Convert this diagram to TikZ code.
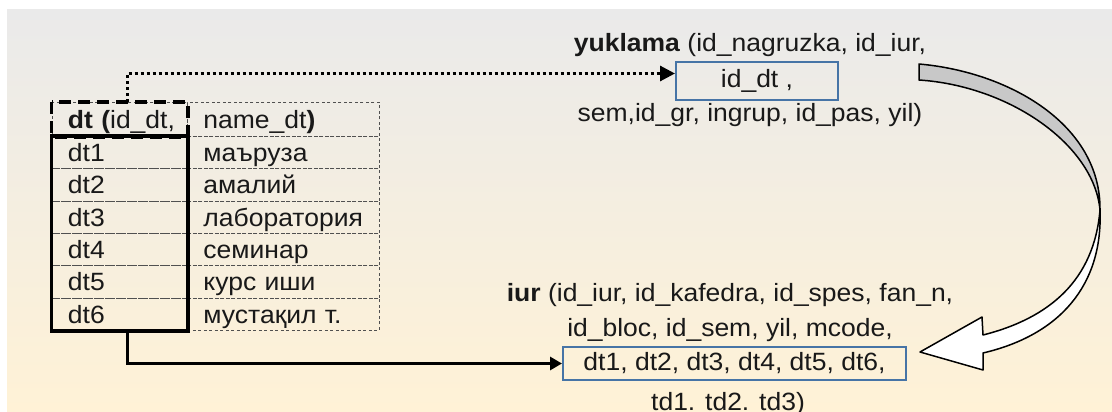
\documentclass[tikz,border=0pt]{standalone}
\usepackage{fontspec}
\setmainfont{Liberation Sans}[FakeStretch=1.06]
\usetikzlibrary{arrows.meta}
\definecolor{bgtop}{RGB}{234,234,234}
\definecolor{bgbot}{RGB}{255,242,214}
\definecolor{keyblue}{RGB}{70,116,166}
\definecolor{gridgray}{RGB}{80,80,80}
\definecolor{bandgray}{RGB}{200,200,200}

\begin{document}
\begin{tikzpicture}[x=1pt,y=-1pt,
  every node/.style={font=\fontsize{25}{30}\selectfont, inner sep=0pt, text=black!90},
  thingrid/.style={draw=gridgray, line width=0.9pt, dash pattern=on 3pt off 2.5pt},
  cell/.style={thingrid, anchor=north west, minimum height=#1, text height=18pt, text depth=0pt, inner xsep=16pt, align=left},
  cellL/.style={cell=#1, text width=103.5pt},
  cellR/.style={cell=#1, text width=160pt},
  keybox/.style={draw=keyblue, line width=2pt},
  dotline/.style={line width=3pt, dash pattern=on 3pt off 3pt, -{Triangle[length=15pt,width=15pt]}},
  solidline/.style={line width=3pt, -{Triangle[length=12pt,width=13pt]}},
  band/.style={draw=black, line width=1.5pt, line join=round}]

\useasboundingbox (0,0) rectangle (1112,412);
\clip (0,0) rectangle (1112,412);

% background
\fill[white] (0,0) rectangle (1112,412);
\shade[top color=bgtop, middle color=white, bottom color=bgbot] (7,10) rectangle (1112,412);

% table dt
\node[cellL=34pt] (hl) at (51.5,102) {\mbox{\textbf{dt (}id\_dt,}};
\node[cellR=34pt] (hr) at (187,102) {\mbox{name\_dt\textbf{)}}};
\foreach \i/\nm in {1/маъруза,2/амалий,3/лаборатория,4/семинар,5/курс иши,6/мустақил т.} {
  \node[cellL=32.33pt] (l\i) at (51.5,{136+(\i-1)*32.33}) {dt\i};
  \node[cellR=32.33pt] (r\i) at (187,{136+(\i-1)*32.33}) {\mbox{\nm}};
}
\draw[line width=3.5pt] (l1.north west) rectangle (l6.south east);
\draw[line width=3.5pt, dash pattern=on 12pt off 7pt] (hl.north west) rectangle (hl.south east);

% yuklama
\node (ytitle) at (750,45) {\textbf{yuklama} (id\_nagruzka, id\_iur,};
\node[keybox, minimum width=162pt, minimum height=38pt] (ybox) at (757,81) {id\_dt ,\hspace{16pt}};
\node (ybot) at (750,115) {sem,id\_gr, ingrup, id\_pas, yil)};

% iur
\node (i1) at (730,295) {\textbf{iur} (id\_iur, id\_kafedra, id\_spes, fan\_n,};
\node (i2) at (730,330) {id\_bloc, id\_sem, yil, mcode,};
\node[keybox, minimum width=343pt, minimum height=33pt] (ibox) at (734.5,363.5) {dt1, dt2, dt3, dt4, dt5, dt6,};
\node (i4) at (728,404) {td1. td2. td3)};

% links
\draw[dotline] ([xshift=75.5pt]hl.north west) |- ([yshift=7.5pt]ybox.west);
\draw[solidline] ([xshift=75.5pt]l6.south west) |- (ibox.west);

% curved block arrow from yuklama to iur
\filldraw[band, fill=bandgray] (919,64) .. controls (1010,72) and (1101,125) .. (1100,210)
  .. controls (1094,145) and (1010,86) .. (919,80) -- cycle;
\filldraw[band, fill=white] (1100,210) .. controls (1103,285) and (1060,335) .. (983,353)
  -- (983,370) -- (920,352) -- (982,317) -- (983,335)
  .. controls (1050,318) and (1094,280) .. (1100,210) -- cycle;
\end{tikzpicture}
\end{document}
